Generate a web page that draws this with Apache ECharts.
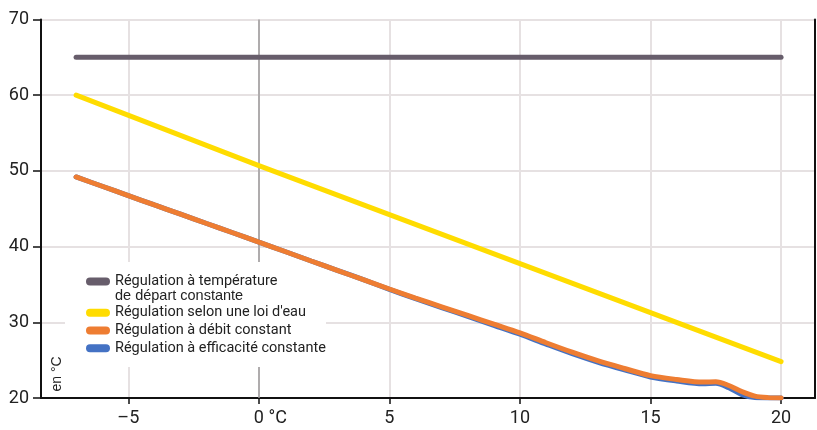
<!DOCTYPE html>
<html>
<head>
<meta charset="utf-8">
<script src="https://cdn.jsdelivr.net/npm/echarts@6/dist/echarts.min.js"></script>
<style>
html,body{margin:0;padding:0;background:#fff;}
#chart{width:817px;height:430px;}
</style>
</head>
<body>
<div id="chart"></div>
<script>
// ---- data ----
const seriesNames = [
  'Régulation à température de départ constante',
  'Régulation selon une loi d\'eau',
  'Régulation à débit constant',
  'Régulation à efficacité constante'
];
const xTickValues = [-5, 0, 5, 10, 15, 20];
const xTickLabels = ['–5', '0 °C', '5', '10', '15', '20'];
const yTickLabels = ['20', '30', '40', '50', '60', '70'];

const grayX = [-7, 20];
const grayY = [65, 65];

const yellowX = [-7, 0, 20];
const yellowY = [60, 50.7, 24.8];

const orangeX = [-7, -6, -5, -4, -3, -2, -1, 0, 1, 2, 3, 4, 5, 6, 7, 8, 9, 10, 11, 12, 13, 14, 15, 16, 17, 17.5, 18, 18.5, 19, 19.5, 20];
const orangeY = [49.2, 47.97, 46.74, 45.5, 44.28, 43.05, 41.83, 40.6, 39.35, 38.1, 36.87, 35.63, 34.4, 33.2, 32.05, 30.9, 29.75, 28.6, 27.3, 26.05, 24.9, 23.9, 22.95, 22.45, 22.1, 22.15, 21.65, 20.85, 20.25, 20.05, 20.0];

const blueX = [-7, -6, -5, -4, -3, -2, -1, 0, 1, 2, 3, 4, 5, 6, 7, 8, 9, 10, 11, 12, 13, 14, 15, 16, 17, 17.5, 18, 18.5, 19, 19.5, 20];
const blueY = [49.2, 47.97, 46.74, 45.5, 44.28, 43.05, 41.83, 40.6, 39.35, 38.1, 36.87, 35.63, 34.35, 33.12, 31.95, 30.78, 29.6, 28.42, 27.12, 25.86, 24.72, 23.72, 22.78, 22.25, 21.88, 21.95, 21.35, 20.45, 20.05, 20.0, 20.0];

const colors = ['#675d6b', '#ffdc00', '#ee7d32', '#4472c4'];

function pairs(xs, ys) { return xs.map((x, i) => [x, ys[i]]); }

const FONT = 'Roboto, "Noto Sans", sans-serif';
const capsule = 'path://M4,0 H20 A4,4 0 0 1 20,8 H4 A4,4 0 0 1 4,0 Z';

const chart = echarts.init(document.getElementById('chart'), null, {renderer: 'canvas'});

const lineBase = {
  type: 'line',
  xAxisIndex: 0,
  yAxisIndex: 0,
  showSymbol: false,
  symbol: 'none',
  silent: true,
  animation: false
};

const option = {
  animation: false,
  backgroundColor: '#ffffff',
  textStyle: {fontFamily: FONT},
  grid: {left: 41, right: 2, top: 19.5, bottom: 32, containLabel: false},
  xAxis: {
    type: 'value',
    min: -8.345,
    max: 21.3,
    axisLine: {show: true, onZero: false, lineStyle: {color: '#111', width: 2}},
    axisTick: {show: true, length: 6, customValues: xTickValues, lineStyle: {color: '#111', width: 1.5}},
    axisLabel: {
      show: true,
      customValues: xTickValues,
      margin: 11,
      fontSize: 18,
      color: '#222',
      fontFamily: FONT,
      formatter: function (v) {
        const idx = xTickValues.findIndex(t => Math.abs(t - v) < 1e-6);
        if (idx < 0) return '';
        if (xTickValues[idx] === 0) return '{p|}' + xTickLabels[idx];
        return xTickLabels[idx];
      },
      rich: {p: {width: 23, fontSize: 18}}
    },
    splitLine: {show: true, lineStyle: {color: '#e6e1e2', width: 2}}
  },
  yAxis: [{
    type: 'value',
    min: 20,
    max: 70,
    interval: 10,
    axisLine: {show: true, onZero: false, lineStyle: {color: '#111', width: 2}},
    axisTick: {show: true, length: 8, lineStyle: {color: '#111', width: 1.5}},
    axisLabel: {
      margin: 12, fontSize: 18, color: '#222', fontFamily: FONT,
      formatter: function (v) { return yTickLabels[Math.round((v - 20) / 10)] || ''; }
    },
    splitLine: {show: true, lineStyle: {color: '#e6e1e2', width: 2}}
  }, {
    type: 'value',
    position: 'right',
    min: 20,
    max: 70,
    interval: 10,
    axisLine: {show: true, onZero: false, lineStyle: {color: '#111', width: 2}},
    axisTick: {show: false},
    axisLabel: {show: false},
    splitLine: {show: false}
  }],
  legend: [{
    data: [{name: seriesNames[0], icon: capsule}],
    orient: 'vertical',
    left: 86,
    top: 274,
    padding: 0,
    itemWidth: 24,
    itemHeight: 8,
    itemGap: 2,
    selectedMode: false,
    itemStyle: {borderWidth: 0},
    textStyle: {fontSize: 14.5, color: '#222', fontFamily: FONT},
    formatter: function () { return 'Régulation à température'; },
    z: 6
  }, {
    data: [
      {name: seriesNames[1], icon: capsule},
      {name: seriesNames[2], icon: capsule},
      {name: seriesNames[3], icon: capsule}
    ],
    orient: 'vertical',
    left: 86,
    top: 305.2,
    padding: 0,
    itemWidth: 24,
    itemHeight: 8,
    itemGap: 2.8,
    selectedMode: false,
    itemStyle: {borderWidth: 0},
    textStyle: {fontSize: 14.5, color: '#222', fontFamily: FONT},
    z: 6
  }],
  graphic: [{
    type: 'rect',
    shape: {x: 65, y: 262, width: 261, height: 105},
    style: {fill: '#ffffff'},
    z: 1.5,
    silent: true
  }, {
    type: 'text',
    x: 115,
    y: 296,
    z: 7,
    style: {text: 'de départ constante', fontSize: 14.5, fill: '#222', font: '14.5px ' + FONT, textVerticalAlign: 'middle', verticalAlign: 'middle'},
    silent: true
  }, {
    type: 'text',
    x: 57,
    y: 374,
    rotation: Math.PI / 2,
    z: 7,
    style: {text: 'en °C', fontSize: 14, fill: '#222', font: '14px ' + FONT, align: 'center', verticalAlign: 'middle', textAlign: 'center', textVerticalAlign: 'middle'},
    silent: true
  }],
  series: [
    Object.assign({}, lineBase, {
      name: seriesNames[0],
      data: pairs(grayX, grayY),
      itemStyle: {color: colors[0]},
      lineStyle: {color: colors[0], width: 5, cap: 'round'},
      z: 2,
      markLine: {
        silent: true,
        symbol: 'none',
        label: {show: false},
        lineStyle: {color: '#9c9a9b', width: 1.5, type: 'solid'},
        data: [{xAxis: 0}],
        z: 1
      }
    }),
    Object.assign({}, lineBase, {
      name: seriesNames[1],
      data: pairs(yellowX, yellowY),
      itemStyle: {color: colors[1]},
      lineStyle: {color: colors[1], width: 5, cap: 'round'},
      z: 2
    }),
    Object.assign({}, lineBase, {
      name: seriesNames[3],
      data: pairs(blueX, blueY),
      smooth: 0.3,
      itemStyle: {color: colors[3]},
      lineStyle: {color: colors[3], width: 5, cap: 'round'},
      z: 2
    }),
    Object.assign({}, lineBase, {
      name: seriesNames[2],
      data: pairs(orangeX, orangeY),
      smooth: 0.3,
      itemStyle: {color: colors[2]},
      lineStyle: {color: colors[2], width: 5, cap: 'round'},
      z: 2
    })
  ]
};
chart.setOption(option);
</script>
</body>
</html>
